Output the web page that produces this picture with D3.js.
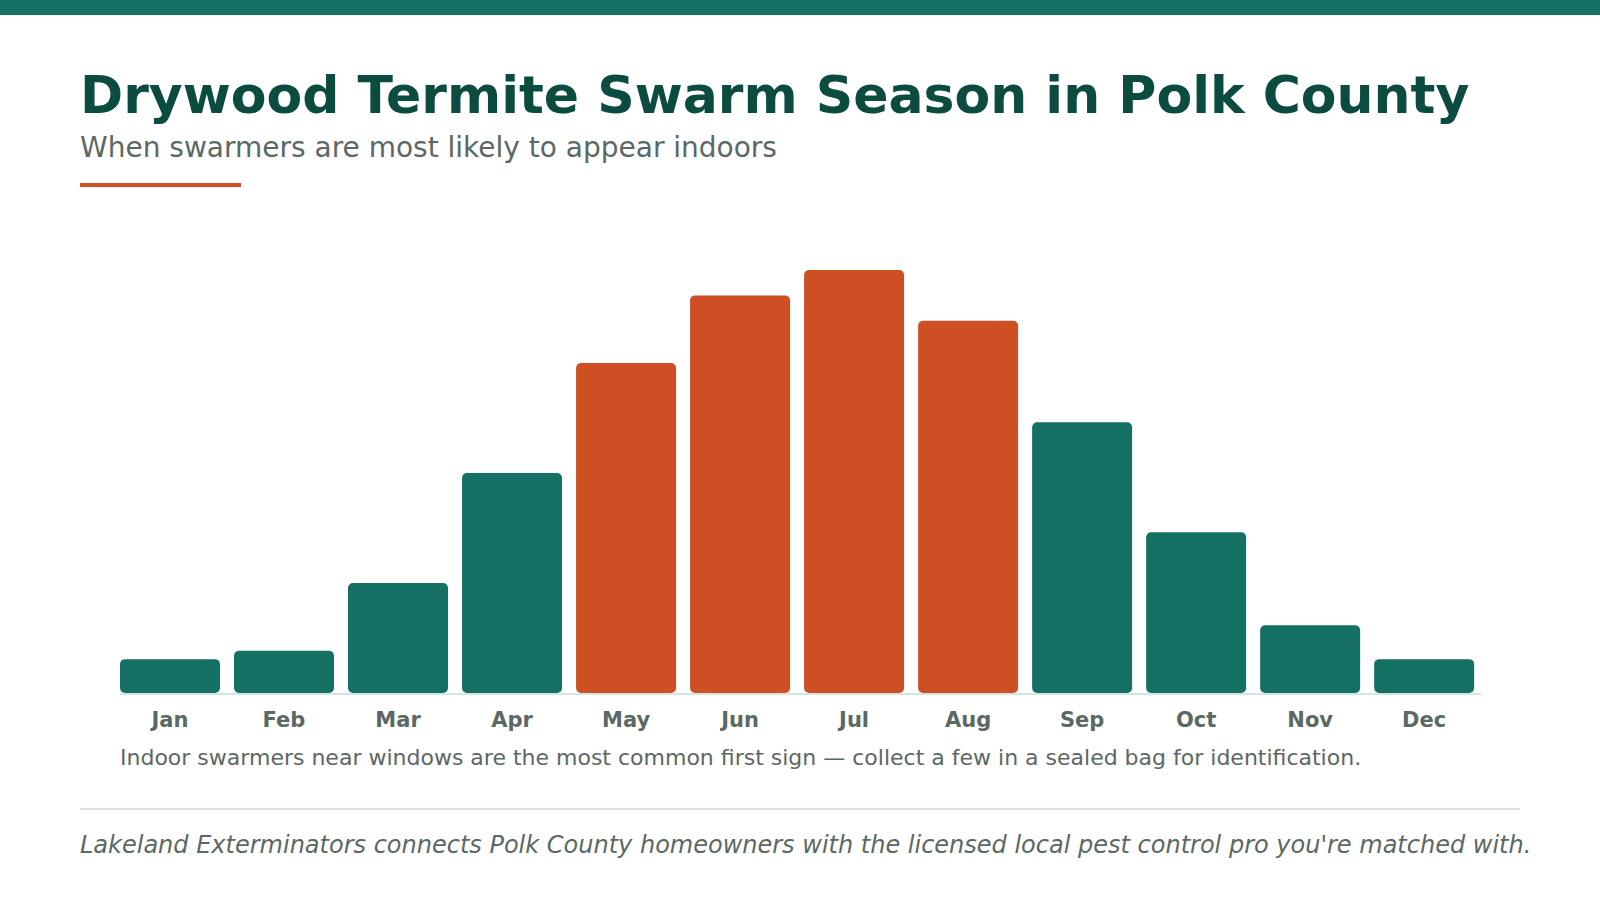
<!DOCTYPE html>
<html>
<head>
<meta charset="utf-8">
<script src="https://cdn.jsdelivr.net/npm/d3@7"></script>
<style>
  html, body { margin: 0; padding: 0; background: #ffffff; }
  svg { display: block; }
</style>
</head>
<body>
<svg id="chart" width="1600" height="900"></svg>
<script>
const months = ["Jan","Feb","Mar","Apr","May","Jun","Jul","Aug","Sep","Oct","Nov","Dec"];
const swarmActivity = [8, 10, 26, 52, 78, 94, 100, 88, 64, 38, 16, 8];
const peakMonths = ["May","Jun","Jul","Aug"];

const titleText = "Drywood Termite Swarm Season in Polk County";
const subtitleText = "When swarmers are most likely to appear indoors";
const noteText = "Indoor swarmers near windows are the most common first sign \u2014 collect a few in a sealed bag for identification.";
const footerText = "Lakeland Exterminators connects Polk County homeowners with the licensed local pest control pro you're matched with.";

const TEAL = "#157064";
const ORANGE = "#cf4f25";
const DARK = "#0b4b40";
const GREY = "#5b6864";
const FONT = "'DejaVu Sans', sans-serif";

const svg = d3.select("#chart");

svg.append("rect").attr("x", 0).attr("y", 0).attr("width", 1600).attr("height", 15).attr("fill", TEAL);

svg.append("text").attr("x", 80).attr("y", 113)
  .attr("font-family", FONT).attr("font-weight", "bold").attr("font-size", 52)
  .attr("fill", DARK).text(titleText);

svg.append("text").attr("x", 80).attr("y", 157)
  .attr("font-family", FONT).attr("font-size", 28)
  .attr("fill", GREY).text(subtitleText);

svg.append("rect").attr("x", 80).attr("y", 183).attr("width", 161).attr("height", 4).attr("fill", ORANGE);

const x = d3.scaleBand().domain(months).range([120, 1481]).paddingInner(0.123).paddingOuter(0.03).align(0);
const y = d3.scaleLinear().domain([0, 100]).range([693, 270]);

svg.append("g").selectAll("rect").data(months).join("rect")
  .attr("x", d => x(d))
  .attr("y", (d, i) => y(swarmActivity[i]))
  .attr("width", x.bandwidth())
  .attr("height", (d, i) => y(0) - y(swarmActivity[i]))
  .attr("rx", 5).attr("ry", 5)
  .attr("fill", d => peakMonths.includes(d) ? ORANGE : TEAL);

svg.append("line").attr("x1", 120).attr("x2", 1481).attr("y1", 694).attr("y2", 694)
  .attr("stroke", "#cfe6e1").attr("stroke-width", 2);

const xAxis = d3.axisBottom(x).tickSize(0).tickPadding(0);
const gx = svg.append("g").attr("transform", "translate(0,694)").call(xAxis);
gx.select(".domain").remove();
gx.selectAll("text")
  .attr("y", 33).attr("dy", null)
  .attr("font-family", FONT).attr("font-weight", "bold").attr("font-size", 21)
  .attr("fill", GREY);

svg.append("text").attr("x", 120).attr("y", 765)
  .attr("font-family", FONT).attr("font-size", 22)
  .attr("fill", GREY).text(noteText);

svg.append("line").attr("x1", 80).attr("x2", 1520).attr("y1", 809).attr("y2", 809)
  .attr("stroke", "#d4e4e0").attr("stroke-width", 2);

svg.append("text").attr("x", 80).attr("y", 853)
  .attr("font-family", FONT).attr("font-style", "italic").attr("font-size", 24)
  .attr("fill", GREY).text(footerText);
</script>
</body>
</html>
